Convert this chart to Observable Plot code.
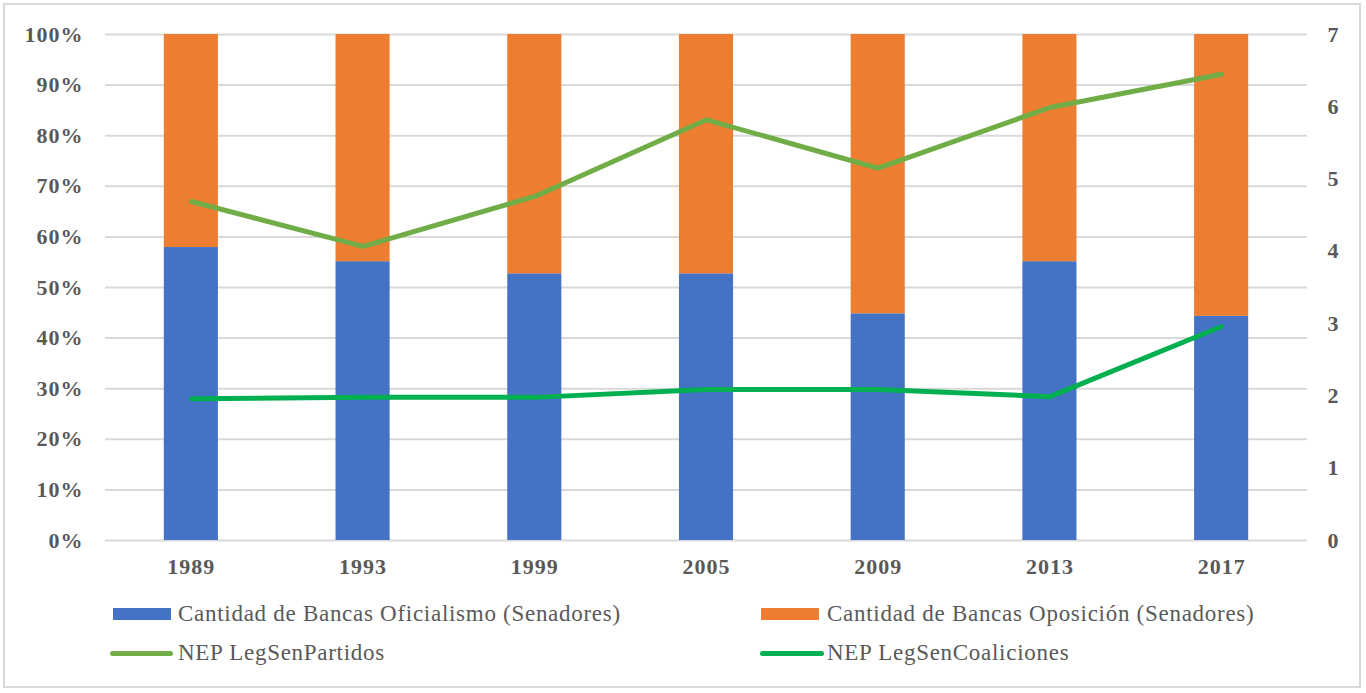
<!DOCTYPE html>
<html><head><meta charset="utf-8">
<script src="https://cdn.jsdelivr.net/npm/d3@7"></script>
<script src="https://cdn.jsdelivr.net/npm/@observablehq/plot@0.6"></script>
<style>
body{margin:0;background:#fff;}
#wrap{position:relative;width:1366px;height:693px;overflow:hidden;font-family:"Liberation Serif","DejaVu Serif";background:#fff;}
#frame{position:absolute;left:3px;top:3px;width:1358px;height:685px;border:2px solid #d9d9d9;box-sizing:border-box;pointer-events:none;}
#chart{position:absolute;left:0;top:0;}
.leg{position:absolute;display:flex;align-items:center;height:30px;font-family:"Liberation Serif","DejaVu Serif";font-size:23px;color:#595959;white-space:nowrap;letter-spacing:0.72px;}
.sw{flex:none;}
</style>
</head><body>
<div id="wrap">
  <div id="chart"></div>
  <div id="legend"></div>
  <div id="frame"></div>
</div>
<script>
const years = ["1989","1993","1999","2005","2009","2013","2017"];
const oficialismo = [0.579,0.551,0.527,0.527,0.448,0.551,0.443];
const oposicion = [0.421,0.449,0.473,0.473,0.552,0.449,0.557];
const partidos = [4.69,4.07,4.76,5.82,5.15,5.99,6.45];
const coaliciones = [1.96,1.98,1.98,2.09,2.09,1.99,2.96];
const leftTicks = [0,0.1,0.2,0.3,0.4,0.5,0.6,0.7,0.8,0.9,1];
const rightTicks = [0,1,2,3,4,5,6,7];
const rightMax = 7;
const seriesNames = [
  "Cantidad de Bancas Oficialismo (Senadores)",
  "Cantidad de Bancas Oposición (Senadores)",
  "NEP LegSenPartidos",
  "NEP LegSenCoaliciones"
];
const colors = ["#4472c4","#ed7d31","#70ad47","#00b050"];

const bars = years.flatMap((y,i)=>[
  {year:y, series:seriesNames[0], value:oficialismo[i]},
  {year:y, series:seriesNames[1], value:oposicion[i]}
]);
const linePartidos = years.map((y,i)=>({year:y, v:partidos[i]/rightMax}));
const lineCoal = years.map((y,i)=>({year:y, v:coaliciones[i]/rightMax}));

const chart = Plot.plot({
  width: 1366,
  height: 590,
  marginTop: 34,
  marginRight: 59,
  marginBottom: 50,
  marginLeft: 105,
  style: {fontFamily:'"Liberation Serif","DejaVu Serif"', fontSize:"22px", fontWeight:"bold", color:"#595959", letterSpacing:"1px", background:"transparent"},
  x: {domain: years, paddingInner: 0.685, paddingOuter: 0.3425, round: false, label: null},
  y: {domain: [0,1], label: null},
  color: {domain: seriesNames.slice(0,2), range: colors.slice(0,2)},
  marks: [
    Plot.gridY(leftTicks, {stroke:"#d9d9d9", strokeOpacity:1, strokeWidth:2}),
    Plot.barY(bars, {x:"year", y:"value", fill:"series"}),
    Plot.lineY(linePartidos, {x:"year", y:"v", stroke:colors[2], strokeWidth:5, strokeLinejoin:"round", strokeLinecap:"round"}),
    Plot.lineY(lineCoal, {x:"year", y:"v", stroke:colors[3], strokeWidth:5, strokeLinejoin:"round", strokeLinecap:"round"}),
    Plot.axisY(leftTicks, {tickFormat: d3.format(".0%"), tickSize:0, tickPadding:22, label:null, fontFamily:"Liberation Serif"}),
    Plot.axisY(rightTicks.map(v=>v/rightMax), {anchor:"right", tickFormat: d=>String(Math.round(d*rightMax)), tickSize:0, tickPadding:20, label:null, fontFamily:"Liberation Serif"}),
    Plot.axisX({tickSize:0, tickPadding:18, label:null, fontFamily:"Liberation Serif"})
  ]
});
document.getElementById("chart").appendChild(chart);

const legendItems = [
  {name:seriesNames[0], color:colors[0], type:"rect", left:113, top:599, w:58, h:12, gap:7},
  {name:seriesNames[1], color:colors[1], type:"rect", left:761, top:599, w:58, h:12, gap:8},
  {name:seriesNames[2], color:colors[2], type:"line", left:110, top:638, w:63, h:5, gap:5},
  {name:seriesNames[3], color:colors[3], type:"line", left:760, top:638, w:64, h:5, gap:3}
];
const leg = document.getElementById("legend");
for (const it of legendItems) {
  const d = document.createElement("div");
  d.className = "leg";
  d.style.left = it.left + "px";
  d.style.top = it.top + "px";
  const s = document.createElement("div");
  s.className = "sw";
  s.style.width = it.w + "px";
  s.style.height = it.h + "px";
  s.style.background = it.color;
  s.style.marginRight = it.gap + "px";
  if (it.type === "line") s.style.borderRadius = "3px";
  const t = document.createElement("span");
  t.textContent = it.name;
  d.appendChild(s); d.appendChild(t);
  leg.appendChild(d);
}
</script>
</body></html>
